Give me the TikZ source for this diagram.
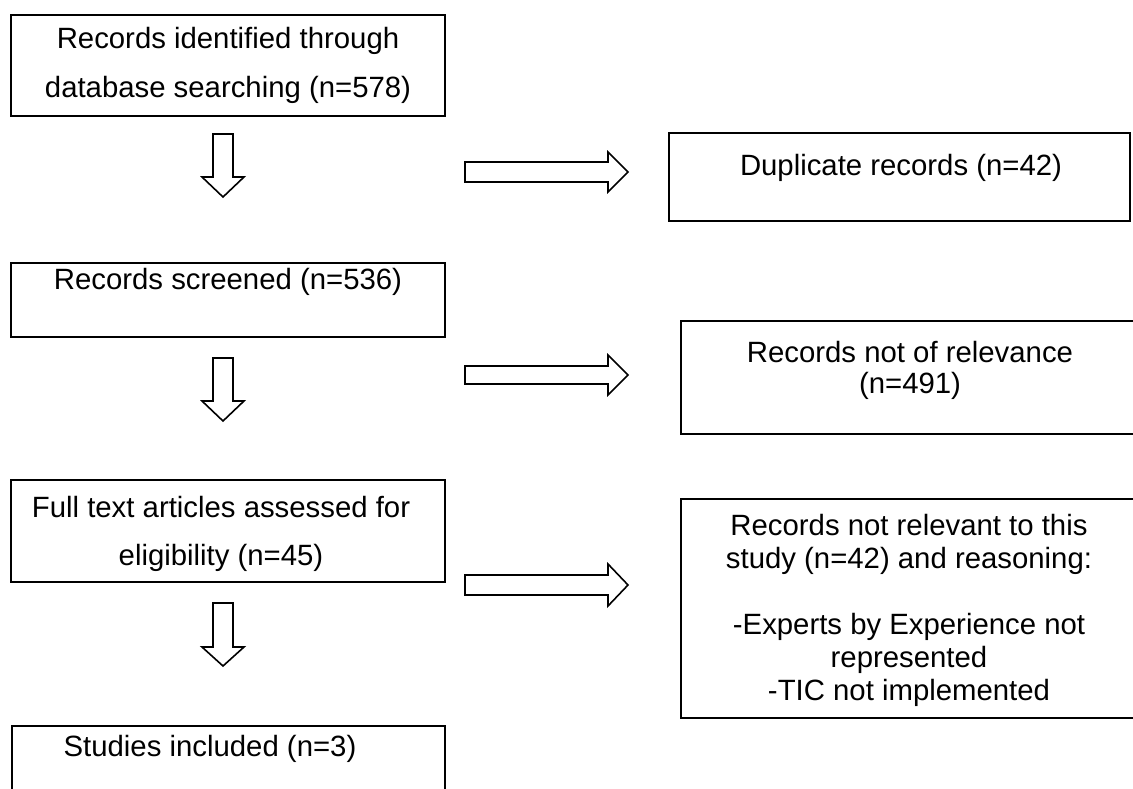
\documentclass[tikz,border=0pt]{standalone}
\usepackage{fontspec}
\setmainfont{Liberation Sans}
\usetikzlibrary{fit}
\begin{document}
\begin{tikzpicture}[x=0.75pt,y=-0.75pt]
\tikzset{
  box/.style={draw=black, line width=1.5pt, inner sep=0pt, fill=none},
  txt/.style={inner sep=0pt, anchor=base, font=\fontsize{22}{26}\selectfont},
  blockarrow/.style={draw=black, line width=1.2pt, line join=miter, fill=white}
}
\useasboundingbox (0,0) rectangle (1133,789);
\clip (0,0) rectangle (1133,789);
\fill[white] (0,0) rectangle (1133,789);
% boxes
\node[box, fit={(11,15) (445,116)}] (b1) {};
\node[box, fit={(669,133) (1130,221)}] (dup) {};
\node[box, fit={(11,263) (445,337)}] (b2) {};
\node[box, fit={(681,321) (1150,434)}] (nr1) {};
\node[box, fit={(11,480) (445,582)}] (b3) {};
\node[box, fit={(681,499) (1150,718)}] (nr2) {};
\node[box, fit={(12,726) (445,810)}] (b4) {};
% texts
\node[txt] (t1a) at (228,48) {Records identified through};
\node[txt] (t1b) at (228,97) {database searching (n=578)};
\node[txt] (tdup) at (901,175) {Duplicate records (n=42)};
\node[txt] (t2) at (228,289) {Records screened (n=536)};
\node[txt] (tn1a) at (910,362) {Records not of relevance};
\node[txt] (tn1b) at (910,393) {(n=491)};
\node[txt] (t3a) at (221,517) {Full text articles assessed for};
\node[txt] (t3b) at (221,565) {eligibility (n=45)};
\node[txt] (tn2a) at (909,535) {Records not relevant to this};
\node[txt] (tn2b) at (909,568) {study (n=42) and reasoning:};
\node[txt] (tn2c) at (909,634) {-Experts by Experience not};
\node[txt] (tn2d) at (909,667) {represented};
\node[txt] (tn2e) at (909,700) {-TIC not implemented};
\node[txt] (t4) at (210,756) {Studies included (n=3)};
% down arrows
\foreach \t/\h/\e in {134/177/197, 358/401/421, 603/647/666}{
  \draw[blockarrow] (213,\t) -- (233,\t) -- (233,\h) -- (244,\h) -- (223,\e) -- (202,\h) -- (213,\h) -- cycle;
}
% right arrows
\foreach \c/\s/\w in {172/10/20, 375/9/20, 585/10/21}{
  \draw[blockarrow] (465,\c-\s) -- (608,\c-\s) -- (608,\c-\w) -- (628,\c) -- (608,\c+\w) -- (608,\c+\s) -- (465,\c+\s) -- cycle;
}
\end{tikzpicture}
\end{document}
